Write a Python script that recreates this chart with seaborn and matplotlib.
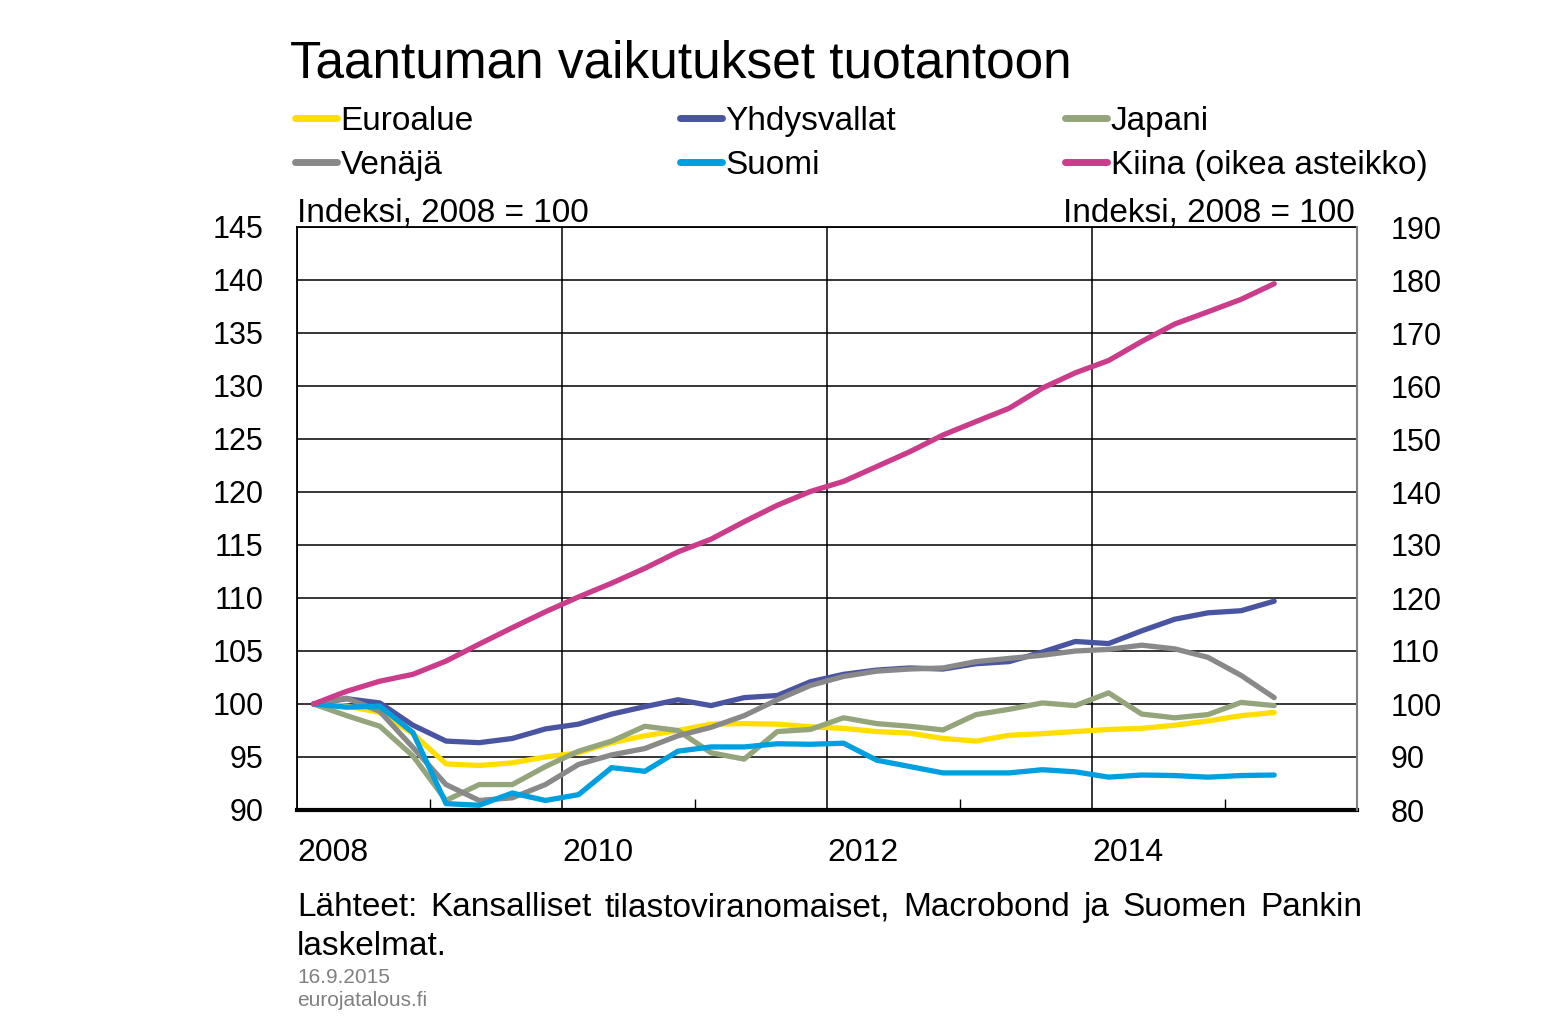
"""Taantuman vaikutukset tuotantoon -- quarterly output indices."""
import matplotlib
matplotlib.use("Agg")
import matplotlib.pyplot as plt
from matplotlib.lines import Line2D
import numpy as np
import pandas as pd
import seaborn as sns


quarters = pd.period_range("2008Q1", "2015Q2", freq="Q")

euroalue = [100, 99.8, 99.2, 97.2, 94.35, 94.2, 94.45, 95.0, 95.4, 96.35,
            97.0, 97.5, 98.1, 98.15, 98.1, 97.85, 97.7, 97.4, 97.25, 96.75,
            96.5, 97.05, 97.2, 97.4, 97.6, 97.7, 98.0, 98.4, 98.9, 99.2]
yhdysvallat = [100, 100.5, 100.1, 98.0, 96.5, 96.35, 96.75, 97.65, 98.1, 99.05,
               99.75, 100.4, 99.85, 100.6, 100.8, 102.1, 102.8, 103.2, 103.4, 103.3,
               103.8, 104.0, 104.9, 105.9, 105.7, 106.9, 108.0, 108.6, 108.8, 109.7]
japani = [100, 98.9, 97.9, 95.1, 90.9, 92.4, 92.4, 94.1, 95.55, 96.5,
          97.9, 97.5, 95.4, 94.8, 97.4, 97.6, 98.7, 98.15, 97.9, 97.55,
          99.0, 99.5, 100.1, 99.85, 101.05, 99.05, 98.7, 99.0, 100.15, 99.85]
venaja = [100, 100.55, 99.3, 95.9, 92.4, 90.9, 91.15, 92.4, 94.3, 95.2,
          95.8, 97.0, 97.8, 98.9, 100.4, 101.75, 102.6, 103.1, 103.3, 103.4,
          104.0, 104.3, 104.6, 105.0, 105.15, 105.55, 105.2, 104.4, 102.7, 100.6]
suomi = [100, 99.7, 99.8, 97.3, 90.6, 90.45, 91.6, 90.9, 91.45, 94.0,
         93.65, 95.55, 95.95, 95.95, 96.25, 96.2, 96.3, 94.7, 94.1, 93.5,
         93.5, 93.5, 93.8, 93.6, 93.1, 93.3, 93.25, 93.1, 93.25, 93.3]
kiina = [100, 102.4, 104.3, 105.6, 108.1, 111.3, 114.4, 117.4, 120.2, 122.8,
         125.6, 128.7, 131.1, 134.4, 137.5, 140.1, 142.0, 144.8, 147.6, 150.75,
         153.3, 155.8, 159.6, 162.5, 164.8, 168.4, 171.7, 174.0, 176.35, 179.3]

left_series = {
    "Euroalue": euroalue,
    "Yhdysvallat": yhdysvallat,
    "Japani": japani,
    "Venäjä": venaja,
    "Suomi": suomi,
}
colors = {
    "Euroalue": "#FFDE00",
    "Yhdysvallat": "#4A55A2",
    "Japani": "#94A57C",
    "Venäjä": "#898989",
    "Suomi": "#009FE0",
    "Kiina (oikea asteikko)": "#CB3C8B",
}
# legend columns, as in the original
legend_columns = [["Euroalue", "Venäjä"],
                  ["Yhdysvallat", "Suomi"],
                  ["Japani", "Kiina (oikea asteikko)"]]

source_line = "Lähteet: Kansalliset tilastoviranomaiset, Macrobond ja Suomen Pankin"

xq = quarters.year + (quarters.quarter - 0.5) / 4.0

df = pd.DataFrame(left_series, index=xq)
df.index.name = "x"
long = df.reset_index().melt(id_vars="x", var_name="sarja", value_name="arvo")
kdf = pd.DataFrame({"x": xq, "arvo": kiina})

sns.set_theme(style="white")
plt.rcParams["font.family"] = ["Liberation Sans", "DejaVu Sans"]
for key in ["text.color", "axes.labelcolor", "xtick.color", "ytick.color"]:
    plt.rcParams[key] = "black"

fig = plt.figure(figsize=(15.62, 10.21), dpi=100)
W, H = 1562, 1021
ax = fig.add_axes([297 / W, 1 - 810 / H, (1357 - 297) / W, (810 - 227) / H])

LW = 3.8
sns.lineplot(data=long, x="x", y="arvo", hue="sarja", palette=colors,
             hue_order=list(left_series), linewidth=LW, legend=False, ax=ax,
             solid_capstyle="round")
ax2 = ax.twinx()
sns.lineplot(data=kdf, x="x", y="arvo", color=colors["Kiina (oikea asteikko)"],
             linewidth=LW, ax=ax2, solid_capstyle="round")

ax.set_xlim(2008, 2016)
ax.set_ylim(90, 145)
ax2.set_ylim(80, 190)
ax.set_yticks(np.arange(90, 146, 5))
ax2.set_yticks(np.arange(80, 191, 10))
ax.set_xticks([2008, 2010, 2012, 2014])
ax.set_xticklabels(["2008", "2010", "2012", "2014"], ha="left")
ax.set_xticks([2009, 2011, 2013, 2015], minor=True)
ax.set_xlabel("")
ax.set_ylabel("")
ax2.set_ylabel("")

ax.set_axisbelow(True)
ax.grid(True, which="major", color="black", linewidth=1.1)
ax.tick_params(axis="y", length=0, pad=24, labelsize=22)
ax2.tick_params(axis="y", length=0, pad=24, labelsize=22)
ax.tick_params(axis="x", which="major", length=0, pad=20, labelsize=23)
ax.tick_params(axis="x", which="minor", direction="in", length=8,
               width=1, color="black", bottom=True)

for side in ["left", "top"]:
    ax.spines[side].set_color("black")
    ax.spines[side].set_linewidth(1.3)
ax.spines["bottom"].set_color("black")
ax.spines["bottom"].set_linewidth(3)
ax.spines["right"].set_visible(False)
for side in ["left", "top", "bottom"]:
    ax2.spines[side].set_visible(False)
ax2.spines["right"].set_color("#808080")
ax2.spines["right"].set_linewidth(1.5)

# title and axis notes
fig.text(290 / W, 1 - 77 / H, "Taantuman vaikutukset tuotantoon",
         fontsize=37, va="baseline", ha="left")
fig.text(297 / W, 1 - 221 / H, "Indeksi, 2008 = 100", fontsize=24,
         va="baseline", ha="left")
fig.text(1355 / W, 1 - 221 / H, "Indeksi, 2008 = 100", fontsize=24,
         va="baseline", ha="right")

# legend: three columns
col_x = [295, 680, 1065]
for cx, names in zip(col_x, legend_columns):
    handles = [Line2D([], [], color=colors[n], linewidth=5, solid_capstyle="round")
               for n in names]
    fig.legend(handles, names, loc="upper left",
               bbox_to_anchor=(cx / W, 1 - 106 / H), frameon=False,
               fontsize=24, handlelength=1.25, handletextpad=0.12,
               borderpad=0, borderaxespad=0, labelspacing=0.38)

# source, first line justified between the axis edges
renderer = fig.canvas.get_renderer()
words = source_line.split(" ")
word_texts = [fig.text(0, 0, w, fontsize=24, va="baseline", ha="left")
              for w in words]
widths = [t.get_window_extent(renderer).width for t in word_texts]
x0, x1 = 297, 1362
gap = (x1 - x0 - sum(widths)) / (len(words) - 1)
xpos = x0
for t, w in zip(word_texts, widths):
    t.set_position((xpos / W, 1 - 916 / H))
    xpos += w + gap
fig.text(297 / W, 1 - 955 / H, "laskelmat.", fontsize=24,
         va="baseline", ha="left")
fig.text(297 / W, 1 - 983 / H, "16.9.2015", fontsize=15, color="#808080",
         va="baseline", ha="left")
fig.text(297 / W, 1 - 1006 / H, "eurojatalous.fi", fontsize=15, color="#808080",
         va="baseline", ha="left")

fig.savefig("out.png", dpi=100)
